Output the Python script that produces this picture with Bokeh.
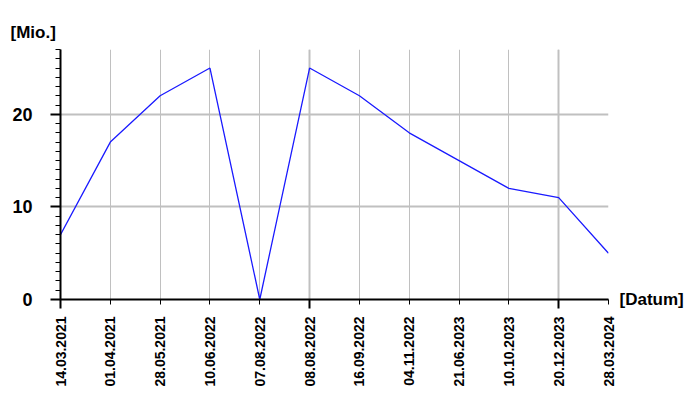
import math
from bokeh.plotting import figure
from bokeh.models import FixedTicker, Range1d, LinearAxis, Title
from bokeh.embed import file_html
from bokeh.resources import INLINE

dates = ["14.03.2021", "01.04.2021", "28.05.2021", "10.06.2022", "07.08.2022",
         "08.08.2022", "16.09.2022", "04.11.2022", "21.06.2023", "10.10.2023",
         "20.12.2023", "28.03.2024"]
values = [7, 17, 22, 25, 0, 25, 22, 18, 15, 12, 11, 5]
y_major = [0, 10, 20]
y_max = 27
y_unit = "[Mio.]"
x_unit = "[Datum]"

idx = list(range(len(dates)))
FONT = "Liberation Sans"

p = figure(width=692, height=392, output_backend="svg", toolbar_location=None,
           x_range=Range1d(0, len(dates) - 1), y_range=Range1d(0, y_max),
           min_border_left=60, min_border_right=84, min_border_top=49,
           min_border_bottom=93)
p.outline_line_color = None
p.background_fill_color = "white"
p.border_fill_color = "white"

# grids
p.xgrid.ticker = FixedTicker(ticks=idx[::5], minor_ticks=idx)
p.xgrid.grid_line_color = "#c0c0c0"
p.xgrid.grid_line_width = 2
p.xgrid.minor_grid_line_color = "#c0c0c0"
p.xgrid.minor_grid_line_width = 1
p.ygrid.ticker = FixedTicker(ticks=y_major)
p.ygrid.grid_line_color = "#c0c0c0"
p.ygrid.grid_line_width = 2

# x axis
xa = p.xaxis[0]
xa.ticker = FixedTicker(ticks=idx, minor_ticks=idx[::5])
xa.major_label_overrides = {i: d for i, d in zip(idx, dates)}
xa.major_label_orientation = math.pi / 2
xa.axis_line_width = 2
xa.axis_line_color = "black"
xa.major_tick_in = 0
xa.major_tick_out = 5
xa.major_tick_line_width = 1
xa.minor_tick_in = 0
xa.minor_tick_out = 9
xa.minor_tick_line_width = 2
xa.major_label_standoff = 8
xa.major_label_text_font = FONT
xa.major_label_text_font_size = "14px"
xa.major_label_text_font_style = "bold"
xa.major_label_text_color = "black"

# y axis
ya = p.yaxis[0]
ya.ticker = FixedTicker(ticks=y_major, minor_ticks=list(range(0, y_max + 1)))
ya.axis_line_width = 2
ya.axis_line_color = "black"
ya.major_tick_in = 0
ya.major_tick_out = 10
ya.major_tick_line_width = 2
ya.minor_tick_in = 0
ya.minor_tick_out = 5
ya.minor_tick_line_width = 1
ya.major_label_standoff = 18
ya.major_label_text_font = FONT
ya.major_label_text_font_size = "18px"
ya.major_label_text_font_style = "bold"
ya.major_label_text_color = "black"

p.line(x=idx, y=values, line_color="#1a1aff", line_width=1.3)

# x unit label as a right-side axis label at y=0
ra = LinearAxis(ticker=FixedTicker(ticks=[0]),
                major_label_overrides={0: x_unit})
ra.axis_line_color = None
ra.major_tick_line_color = None
ra.minor_tick_line_color = None
ra.major_tick_in = 0
ra.major_tick_out = 0
ra.major_label_standoff = 11
ra.major_label_text_font = FONT
ra.major_label_text_font_size = "17px"
ra.major_label_text_font_style = "bold"
ra.major_label_text_color = "black"
p.add_layout(ra, "right")

# y unit label as a title above
t = Title(text=y_unit, align="left", offset=-50, text_font=FONT,
          text_font_size="17px", text_font_style="bold", text_color="black",
          standoff=15)
p.add_layout(t, "above")

open("out.html", "w").write(file_html(p, INLINE))
